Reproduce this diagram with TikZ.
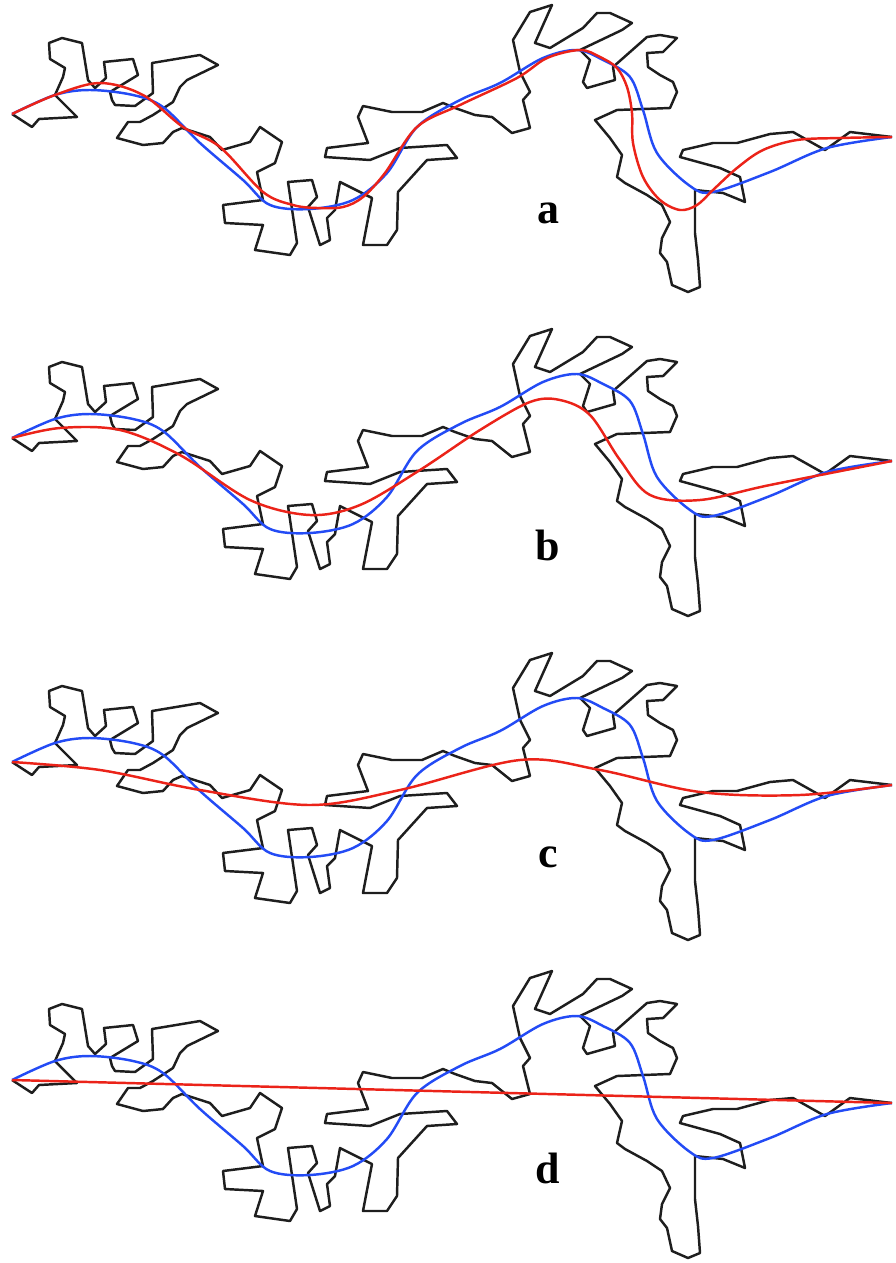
\documentclass[tikz,border=0pt]{standalone}
\usepackage{fontspec}
\setmainfont{Liberation Serif}
\definecolor{fitblue}{RGB}{35,75,245}
\definecolor{fitred}{RGB}{235,35,25}
\definecolor{chaingray}{RGB}{30,30,30}

% the chain and its blue axis are the same in every panel
\newcommand{\drawchain}[1]{%
  \draw[backbone, shift={(0,#1)}] (12,114) -- (32,127) -- (39,119) -- (77,117) -- (55,95) -- (63,77) -- (65,68) -- (50,59) -- (49,43) -- (62,38) -- (82,43) -- (88,80) -- (95,88) -- (106,78) -- (104,62) -- (133,59) -- (138,75) -- (110,92) -- (112,100) -- (115,105) -- (135,106) -- (153,93) -- (152,63) -- (200,55) -- (218,65) -- (187,80) -- (180,87) -- (173,102) -- (153,115) -- (140,122) -- (128,122) -- (117,138) -- (143,145) -- (163,143) -- (173,132) -- (182,128) -- (210,137) -- (222,150) -- (250,142) -- (260,127) -- (282,142) -- (275,163) -- (257,172) -- (263,200) -- (223,205) -- (225,223) -- (263,225) -- (255,250) -- (290,255) -- (297,243) -- (288,182) -- (312,180) -- (317,197) -- (308,207) -- (320,245) -- (330,240) -- (327,218) -- (335,210) -- (340,182) -- (372,198) -- (363,245) -- (387,245) -- (397,230) -- (398,192) -- (427,160) -- (457,158) -- (447,145) -- (400,148) -- (370,160) -- (325,157) -- (327,148) -- (368,143) -- (358,117) -- (363,106) -- (392,112) -- (422,112) -- (443,103) -- (455,108) -- (475,115) -- (492,117) -- (512,133) -- (530,128) -- (523,100) -- (530,92) -- (520,72) -- (513,40) -- (530,12) -- (552,5) -- (535,43) -- (550,48) -- (583,28) -- (597,13) -- (610,13) -- (632,23) -- (622,30) -- (580,50) -- (590,60) -- (583,82) -- (587,88) -- (615,80) -- (613,67) -- (647,37) -- (660,35) -- (677,38) -- (663,52) -- (647,53) -- (648,67) -- (660,75) -- (673,82) -- (677,92) -- (670,108) -- (617,110) -- (595,120) -- (610,138) -- (622,155) -- (617,177) -- (625,183) -- (647,195) -- (662,205) -- (670,222) -- (662,238) -- (660,253) -- (667,262) -- (672,285) -- (688,292) -- (700,287) -- (698,260) -- (695,233) -- (695,190) -- (723,193) -- (745,202) -- (740,177) -- (720,168) -- (680,157) -- (683,150) -- (713,143) -- (737,143) -- (770,134) -- (793,132) -- (825,150) -- (850,132) -- (892,137);
  \draw[bluefit, shift={(0,#1)}] plot[smooth, tension=0.55] coordinates {(12,114) (55,95) (90,90) (133,95) (163,107) (200,143) (243,180) (270,205) (310,209) (353,200) (387,173) (417,127) (460,100) (500,83) (543,58) (577,50) (603,60) (630,77) (643,110) (657,153) (690,186) (713,192) (770,172) (827,148) (892,137)};
}

\begin{document}
\begin{tikzpicture}[x=0.2mm, y=-0.2mm,
    backbone/.style={draw=chaingray, line width=1.4pt, line join=round},
    bluefit/.style={draw=fitblue, line width=1.4pt},
    redfit/.style={draw=fitred, line width=1.4pt},
    panellabel/.style={font=\fontsize{25}{28}\selectfont\bfseries, inner sep=0pt}]
  \useasboundingbox (0,0) rectangle (896,1263);

  \foreach \dy in {0,324,648,966} {
    \drawchain{\dy}
  }

  % panel a
  \draw[redfit] plot[smooth, tension=0.55] coordinates {(12,114) (55,95) (100,83) (143,95) (183,127) (220,147) (263,192) (293,205) (317,208) (343,207) (363,197) (385,173) (417,127) (460,105) (517,78) (547,58) (580,50) (600,57) (617,68) (627,87) (632,113) (633,143) (643,177) (660,200) (680,210) (697,205) (713,190) (737,168) (763,150) (797,140) (840,138) (892,137)};
  % panel b
  \draw[redfit, shift={(0,324)}] plot[smooth, tension=0.55] coordinates {(12,114) (60,104) (120,106) (180,131) (250,176) (310,191) (360,181) (420,146) (480,106) (530,78) (560,76) (590,91) (620,136) (650,171) (700,176) (770,161) (892,137)};
  % panel c
  \draw[redfit, shift={(0,648)}] plot[smooth, tension=0.55] coordinates {(12,114) (100,122) (200,142) (310,157) (400,142) (520,112) (600,122) (700,144) (800,147) (892,137)};
  % panel d
  \draw[redfit, shift={(0,966)}] (12,114) -- (892,137);

  \node[panellabel] (la) at (548,213) {a};
  \node[panellabel] (lb) at (548,545) {b};
  \node[panellabel] (lc) at (548,857) {c};
  \node[panellabel] (ld) at (548,1168) {d};
\end{tikzpicture}
\end{document}
